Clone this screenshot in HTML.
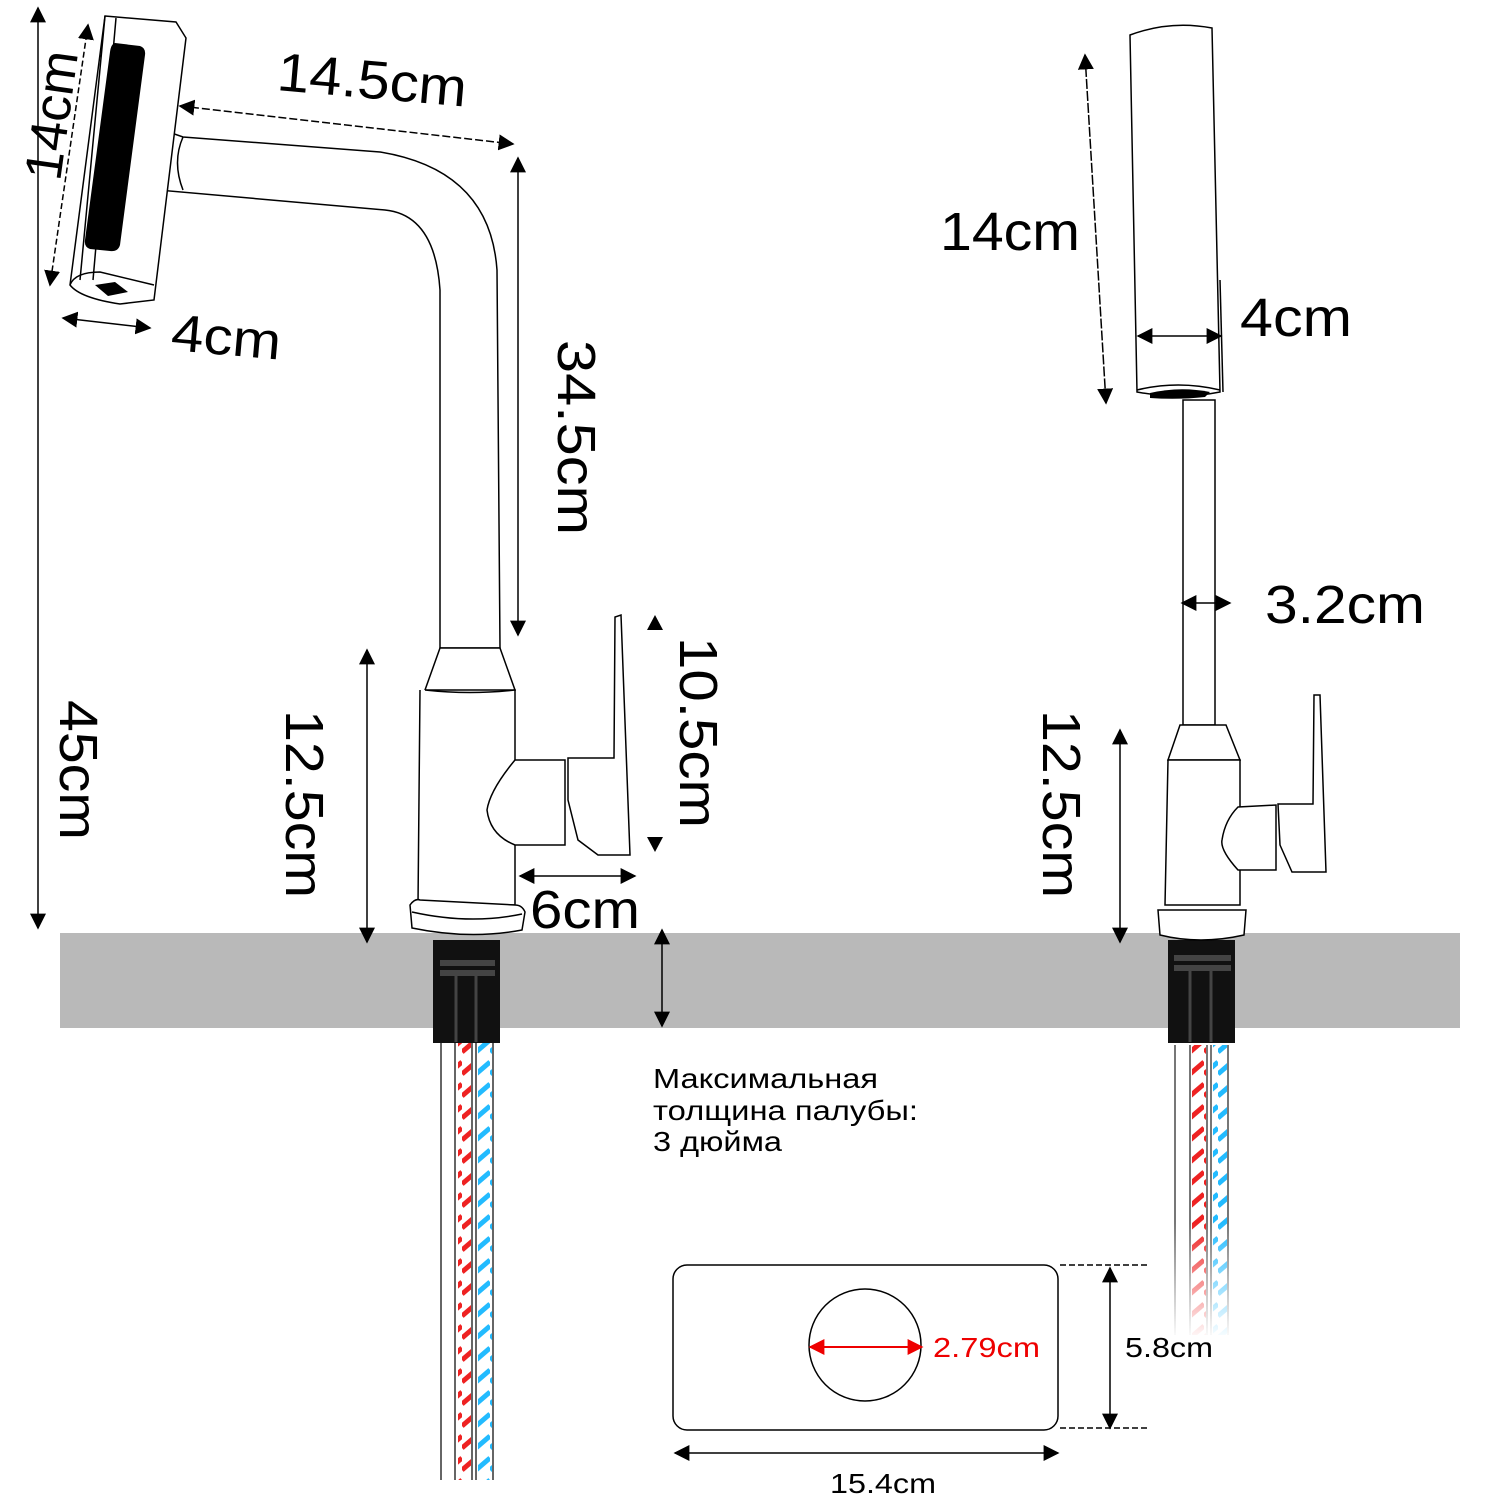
<!DOCTYPE html>
<html><head><meta charset="utf-8"><style>body{margin:0;background:#fff}svg{display:block}text{font-family:"Liberation Sans",sans-serif;fill:#000}</style></head><body>
<svg width="1500" height="1500" viewBox="0 0 1500 1500" xmlns="http://www.w3.org/2000/svg">
<defs>
<marker id="A" viewBox="0 0 10 10" refX="9" refY="5" markerWidth="16" markerHeight="16" orient="auto-start-reverse" markerUnits="userSpaceOnUse"><path d="M0,0L10,5L0,10z" fill="#000"/></marker>
<marker id="R" viewBox="0 0 10 10" refX="9" refY="5" markerWidth="16" markerHeight="16" orient="auto-start-reverse" markerUnits="userSpaceOnUse"><path d="M0,0L10,5L0,10z" fill="#e00"/></marker>
<pattern id="red" width="14" height="22" patternUnits="userSpaceOnUse"><line x1="0" y1="18" x2="14" y2="6" stroke="#e22" stroke-width="5"/></pattern>
<pattern id="blue" width="14" height="22" patternUnits="userSpaceOnUse"><line x1="0" y1="18" x2="14" y2="6" stroke="#2bf" stroke-width="5"/></pattern>
<linearGradient id="fade" x1="0" y1="0" x2="0" y2="1"><stop offset="0.6" stop-color="#fff" stop-opacity="0"/><stop offset="1" stop-color="#fff" stop-opacity="1"/></linearGradient>
</defs>
<rect x="60" y="933" width="1400" height="95" fill="#b9b9b9"/>
<g>
<rect x="458" y="1040" width="14" height="440" fill="url(#red)"/>
<rect x="478" y="1040" width="14" height="440" fill="url(#blue)"/>
<g stroke="#666" stroke-width="2" fill="none"><line x1="441" y1="1040" x2="441" y2="1480"/><line x1="455" y1="1040" x2="455" y2="1480"/><line x1="472" y1="1040" x2="472" y2="1480"/><line x1="476" y1="1040" x2="476" y2="1480"/><line x1="493" y1="1040" x2="493" y2="1480"/></g>
<rect x="433" y="940" width="67" height="103" fill="#111"/>
<rect x="440" y="960" width="55" height="6" fill="#444"/><rect x="440" y="970" width="55" height="6" fill="#444"/>
<line x1="456" y1="975" x2="456" y2="1042" stroke="#444" stroke-width="3"/><line x1="476" y1="975" x2="476" y2="1042" stroke="#444" stroke-width="3"/>
</g>
<g>
<rect x="1192" y="1045" width="14" height="290" fill="url(#red)"/>
<rect x="1213" y="1045" width="14" height="290" fill="url(#blue)"/>
<g stroke="#777" stroke-width="2"><line x1="1175" y1="1045" x2="1175" y2="1335"/><line x1="1190" y1="1045" x2="1190" y2="1335"/><line x1="1207" y1="1045" x2="1207" y2="1335"/><line x1="1211" y1="1045" x2="1211" y2="1335"/><line x1="1228" y1="1045" x2="1228" y2="1335"/></g>
<rect x="1165" y="1045" width="70" height="295" fill="url(#fade)"/>
<rect x="1168" y="940" width="67" height="103" fill="#111"/>
<rect x="1174" y="955" width="57" height="6" fill="#444"/><rect x="1174" y="965" width="57" height="6" fill="#444"/>
<line x1="1190" y1="970" x2="1190" y2="1042" stroke="#444" stroke-width="3"/><line x1="1211" y1="970" x2="1211" y2="1042" stroke="#444" stroke-width="3"/>
</g>
<g fill="#fff" stroke="#000" stroke-width="1.5">
<path d="M183,137 L380,152 Q490,170 497,270 L500,648 L440,648 L440,290 Q435,215 385,210 L158,190 L163,130 Z"/>
<path d="M183,137 Q172,162 183,190" fill="none"/>
<path d="M440,648 L500,648 L515,690 L425,690 Z"/>
<path d="M425,690 Q470,695 515,690 L515,905 L418,905 L420,690"/>
<path d="M410,905 Q415,898 420,900 L515,905 Q522,905 525,912 L522,930 Q470,940 412,928 Z"/>
<path d="M412,912 Q470,925 522,914" fill="none"/>
<path d="M515,760 L565,760 L565,845 L515,845 Q490,835 487,810 Q490,790 515,760 Z"/>
<path d="M568,758 L614,758 L615,617 L621,615 L630,855 L598,855 L578,840 L568,800 Z"/>
<path d="M105,16 L176,22 L186,38 L154,300 L120,304 Q80,298 70,285 Z"/>
<path d="M70,285 Q75,272 100,272 L154,285" fill="none"/>
<path d="M105,16 L80,280 M116,18 L93,280" fill="none"/>
</g>
<path d="M115,43 L140,46 Q146,48 145,55 L120,245 Q118,252 110,251 L90,249 Q84,247 85,240 L110,52 Q111,44 115,43 Z" fill="#000"/>
<path d="M95,285 L115,282 L128,292 L108,296 Z" fill="#000"/>
<g fill="#fff" stroke="#000" stroke-width="1.5">
<path d="M1130,35 Q1170,20 1212,28 L1220,392 Q1180,400 1137,392 Z"/>
<path d="M1137,390 Q1178,380 1220,390" fill="none"/>
<rect x="1183" y="400" width="32" height="325"/>
<path d="M1180,725 L1226,725 L1240,760 L1168,760 Z"/>
<path d="M1168,760 L1240,760 L1240,905 L1165,905 Z"/>
<path d="M1158,910 L1246,910 L1244,935 Q1200,945 1160,935 Z"/>
<path d="M1238,807 L1276,805 L1276,870 L1238,870 Q1220,850 1222,840 Q1225,820 1238,807 Z"/>
<path d="M1278,804 L1313,804 L1314,695 L1320,695 L1326,872 L1292,872 L1280,845 Z"/>
<line x1="1220" y1="280" x2="1223" y2="392" fill="none"/>
</g>
<path d="M1150,393 Q1180,386 1210,392 L1205,397 Q1178,400 1150,398 Z" fill="#000"/>
<g stroke="#000" stroke-width="1.5" fill="none">
<line x1="38" y1="8" x2="38" y2="928" marker-start="url(#A)" marker-end="url(#A)"/>
<line x1="88" y1="25" x2="50" y2="285" stroke-dasharray="6,3" marker-start="url(#A)" marker-end="url(#A)"/>
<line x1="63" y1="318" x2="150" y2="328" marker-start="url(#A)" marker-end="url(#A)"/>
<line x1="180" y1="106" x2="513" y2="144" stroke-dasharray="8,3" marker-start="url(#A)" marker-end="url(#A)"/>
<line x1="518" y1="158" x2="518" y2="635" marker-start="url(#A)" marker-end="url(#A)"/>
<line x1="367" y1="650" x2="367" y2="942" marker-start="url(#A)" marker-end="url(#A)"/>
<line x1="520" y1="876" x2="635" y2="876" marker-start="url(#A)" marker-end="url(#A)"/>
<line x1="662" y1="930" x2="662" y2="1026" marker-start="url(#A)" marker-end="url(#A)"/>
<line x1="1085" y1="55" x2="1106" y2="403" stroke-dasharray="10,2" marker-start="url(#A)" marker-end="url(#A)"/>
<line x1="1138" y1="336" x2="1221" y2="336" marker-start="url(#A)" marker-end="url(#A)"/>
<line x1="1182" y1="603" x2="1230" y2="603" marker-start="url(#A)" marker-end="url(#A)"/>
<line x1="1120" y1="730" x2="1120" y2="942" marker-start="url(#A)" marker-end="url(#A)"/>
<line x1="1110" y1="1268" x2="1110" y2="1428" marker-start="url(#A)" marker-end="url(#A)"/>
<line x1="675" y1="1453" x2="1058" y2="1453" marker-start="url(#A)" marker-end="url(#A)"/>
<line x1="1060" y1="1265" x2="1150" y2="1265" stroke-dasharray="6,3"/>
<line x1="1060" y1="1428" x2="1150" y2="1428" stroke-dasharray="6,3"/>
<rect x="673" y="1265" width="385" height="165" rx="14" fill="#fff"/>
<circle cx="865" cy="1345" r="56" fill="#fff"/>
<line x1="810" y1="1347" x2="922" y2="1347" stroke="#e00" stroke-width="2" marker-start="url(#R)" marker-end="url(#R)"/>
</g>
<path d="M647,630 L663,630 L655,615 Z M647,837 L663,837 L655,852 Z"/>
<text font-size="52" textLength="130" lengthAdjust="spacingAndGlyphs" transform="translate(60,182) rotate(-82)">14cm</text>
<text font-size="52" textLength="110" lengthAdjust="spacingAndGlyphs" transform="translate(170,350) rotate(5)">4cm</text>
<text font-size="54" textLength="190" lengthAdjust="spacingAndGlyphs" transform="translate(276,90) rotate(5)">14.5cm</text>
<text font-size="54" textLength="195" lengthAdjust="spacingAndGlyphs" transform="translate(558,340) rotate(90)">34.5cm</text>
<text font-size="54" textLength="140" lengthAdjust="spacingAndGlyphs" transform="translate(60,700) rotate(90)">45cm</text>
<text font-size="54" textLength="188" lengthAdjust="spacingAndGlyphs" transform="translate(286,710) rotate(90)">12.5cm</text>
<text font-size="54" textLength="191" lengthAdjust="spacingAndGlyphs" transform="translate(680,637) rotate(90)">10.5cm</text>
<text font-size="54" x="530" y="928" textLength="110" lengthAdjust="spacingAndGlyphs">6cm</text>
<text font-size="54" x="940" y="250" textLength="140" lengthAdjust="spacingAndGlyphs">14cm</text>
<text font-size="54" x="1240" y="336" textLength="112" lengthAdjust="spacingAndGlyphs">4cm</text>
<text font-size="54" x="1265" y="623" textLength="160" lengthAdjust="spacingAndGlyphs">3.2cm</text>
<text font-size="54" textLength="188" lengthAdjust="spacingAndGlyphs" transform="translate(1043,710) rotate(90)">12.5cm</text>
<text font-size="28" x="653" y="1088" textLength="225" lengthAdjust="spacingAndGlyphs">Максимальная</text>
<text font-size="28" x="653" y="1120" textLength="265" lengthAdjust="spacingAndGlyphs">толщина палубы:</text>
<text font-size="28" x="653" y="1151" textLength="129" lengthAdjust="spacingAndGlyphs">3 дюйма</text>
<text font-size="28" x="933" y="1357" textLength="107" lengthAdjust="spacingAndGlyphs" style="fill:#e00">2.79cm</text>
<text font-size="28" x="1125" y="1357" textLength="88" lengthAdjust="spacingAndGlyphs">5.8cm</text>
<text font-size="28" x="830" y="1493" textLength="106" lengthAdjust="spacingAndGlyphs">15.4cm</text>
</svg>
</body></html>
